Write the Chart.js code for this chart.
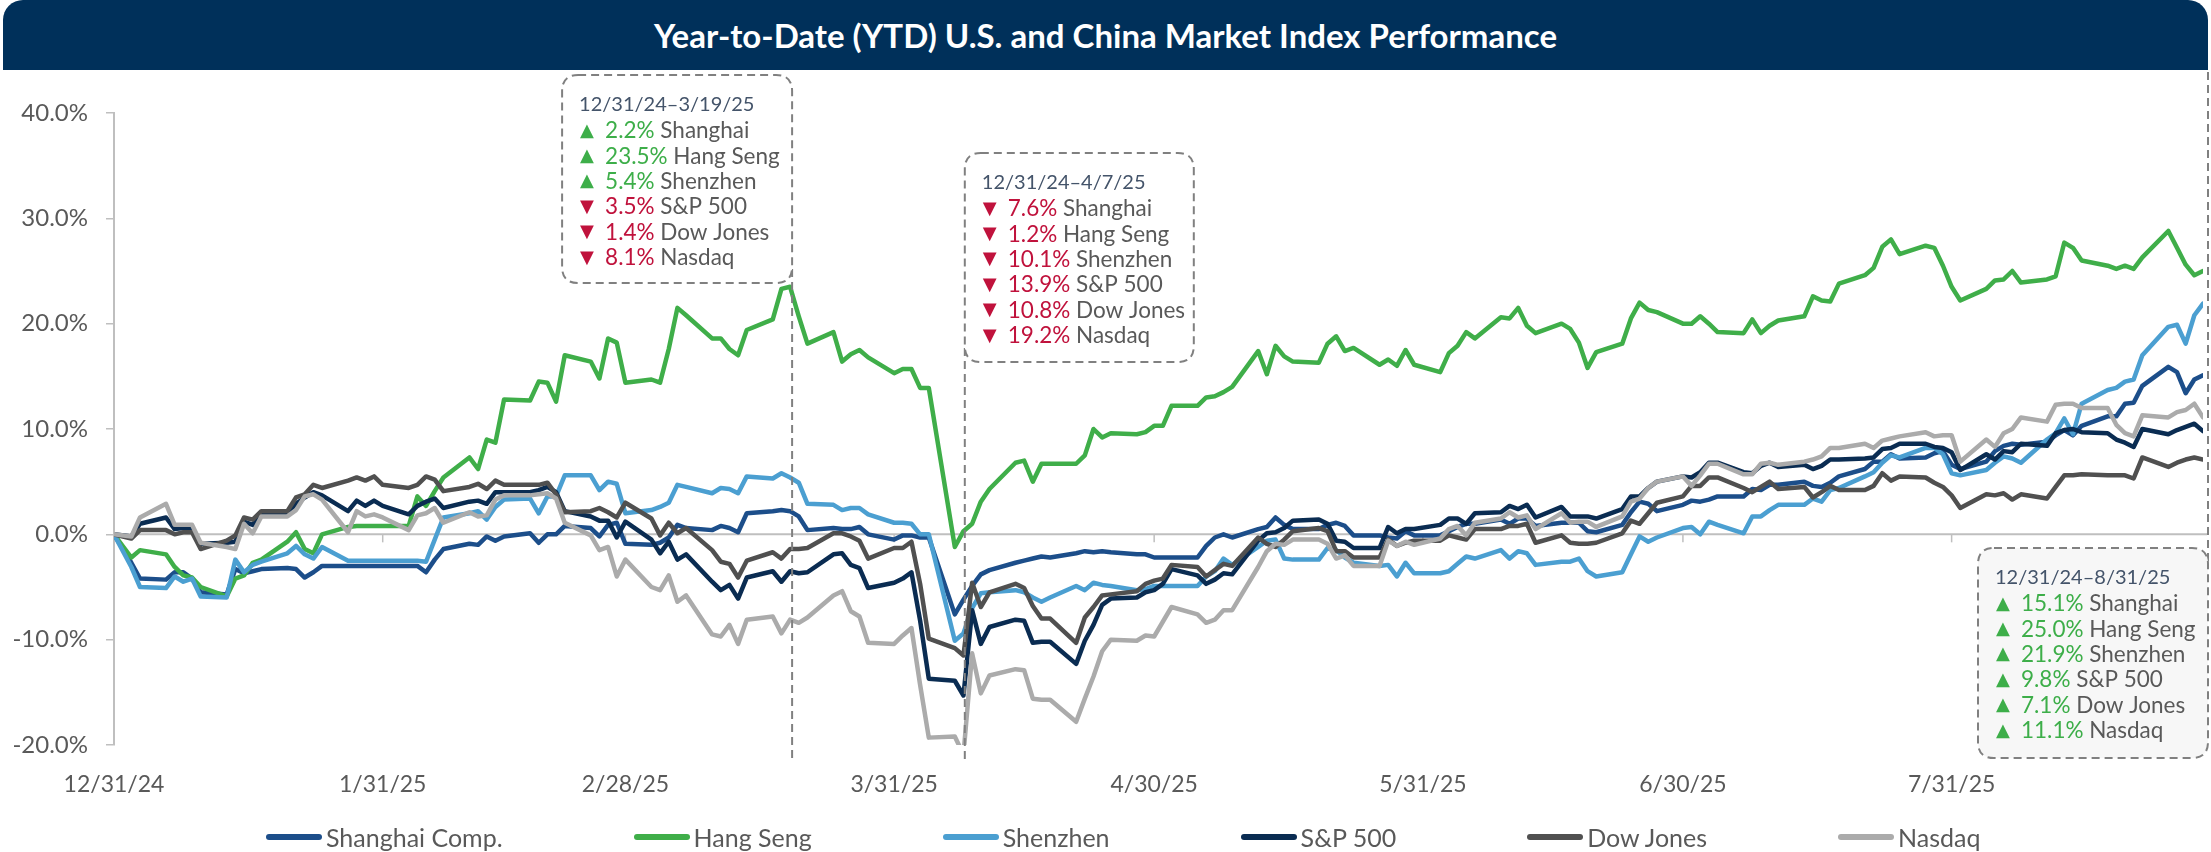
<!DOCTYPE html>
<html>
<head>
<meta charset="utf-8">
<script src="https://cdn.jsdelivr.net/npm/chart.js@4.4.1/dist/chart.umd.min.js"></script>
<style>
html,body{margin:0;padding:0;background:#ffffff;}
body{width:2211px;height:852px;position:relative;overflow:hidden;font-family:Lato,'DejaVu Sans',sans-serif;}
#title{position:absolute;left:3px;top:0;width:2205px;height:70px;background:#00305A;border-radius:20px 20px 0 0;color:#ffffff;font:700 33px Lato,'DejaVu Sans',sans-serif;display:flex;align-items:center;justify-content:center;z-index:2;}
#chart{position:absolute;left:0;top:0;}
#legend{position:absolute;left:266px;top:822px;height:30px;display:flex;align-items:center;font:25px Lato,'DejaVu Sans',sans-serif;color:#595959;z-index:2;white-space:nowrap;}
.item{display:flex;align-items:center;margin-right:131px;}
.sw{width:56px;height:6px;border-radius:3px;margin-right:4px;}
</style>
</head>
<body>
<div id="title">Year-to-Date (YTD) U.S. and China Market Index Performance</div>
<canvas id="chart" width="2211" height="852"></canvas>
<div id="legend"></div>
<script>
// ---------- DATA ----------
const dates = ['12/31',
 '1/2','1/3','1/6','1/7','1/8','1/9','1/10','1/13','1/14','1/15','1/16','1/17','1/20','1/21','1/22','1/23','1/24','1/27','1/28','1/29','1/30','1/31',
 '2/3','2/4','2/5','2/6','2/7','2/10','2/11','2/12','2/13','2/14','2/17','2/18','2/19','2/20','2/21','2/24','2/25','2/26','2/27','2/28',
 '3/3','3/4','3/5','3/6','3/7','3/10','3/11','3/12','3/13','3/14','3/17','3/18','3/19','3/20','3/21','3/24','3/25','3/26','3/27','3/28','3/31',
 '4/1','4/2','4/3','4/4','4/7','4/8','4/9','4/10','4/11','4/14','4/15','4/16','4/17','4/18','4/21','4/22','4/23','4/24','4/25','4/28','4/29','4/30',
 '5/1','5/2','5/5','5/6','5/7','5/8','5/9','5/12','5/13','5/14','5/15','5/16','5/19','5/20','5/21','5/22','5/23','5/26','5/27','5/28','5/29','5/30',
 '6/2','6/3','6/4','6/5','6/6','6/9','6/10','6/11','6/12','6/13','6/16','6/17','6/18','6/19','6/20','6/23','6/24','6/25','6/26','6/27','6/30',
 '7/1','7/2','7/3','7/4','7/7','7/8','7/9','7/10','7/11','7/14','7/15','7/16','7/17','7/18','7/21','7/22','7/23','7/24','7/25','7/28','7/29','7/30','7/31',
 '8/1','8/4','8/5','8/6','8/7','8/8','8/11','8/12','8/13','8/14','8/15','8/18','8/19','8/20','8/21','8/22','8/25','8/26','8/27','8/28','8/29'];

const shanghai = [0,
 -2.7,-4.2,-4.3,-3.6,-3.6,-4.2,-5.5,-5.7,-3.3,-3.7,-3.5,-3.3,-3.2,-3.3,-4.1,-3.6,-3.0,-3.0,-3.0,-3.0,-3.0,-3.0,
 -3.0,-3.0,-3.6,-2.4,-1.4,-0.9,-1.0,-0.2,-0.6,-0.2,0.1,-0.8,0.0,0.0,0.8,0.6,-0.2,0.9,1.1,-0.9,
 -1.0,-0.8,-0.3,0.9,0.6,0.4,0.8,0.6,0.2,2.0,2.2,2.3,2.2,1.7,0.4,0.6,0.5,0.5,0.7,0.0,-0.5,
 -0.1,-0.1,-0.3,-0.3,-7.6,-6.2,-4.9,-3.8,-3.4,-2.7,-2.5,-2.3,-2.1,-2.2,-1.8,-1.6,-1.7,-1.6,-1.7,-1.9,-1.9,-2.2,
 -2.2,-2.2,-2.2,-1.1,-0.3,0.0,-0.3,0.5,0.7,1.6,0.9,0.5,0.5,0.9,1.1,0.8,-0.1,-0.1,-0.3,-0.4,0.3,-0.1,
 -0.1,0.3,0.7,1.0,1.0,1.4,1.0,1.5,1.5,0.8,1.1,1.1,1.1,0.3,0.2,0.9,2.1,3.1,2.9,2.2,2.8,
 3.2,3.1,3.3,3.6,3.6,4.3,4.2,4.7,4.7,5.0,4.6,4.5,4.9,5.5,6.2,6.9,6.9,7.6,7.2,7.3,7.7,7.9,6.6,
 6.2,6.9,7.9,8.4,8.6,8.5,8.8,9.4,9.9,9.4,10.3,11.2,11.2,12.4,12.5,14.1,15.9,15.4,13.4,14.7,15.1];

const hangSeng = [0,
 -2.2,-1.5,-1.9,-3.1,-3.9,-4.1,-5.0,-5.9,-4.2,-3.9,-2.7,-2.4,-0.7,0.2,-1.4,-1.8,0.0,0.7,0.8,0.8,0.8,0.8,
 0.8,3.6,2.7,4.1,5.4,7.3,6.2,9.0,8.7,12.8,12.7,14.5,14.4,12.6,17.0,16.4,14.8,18.6,18.2,14.4,
 14.7,14.4,17.6,21.5,20.8,18.6,18.6,17.6,17.0,19.4,20.4,23.3,23.5,20.7,18.1,19.2,16.4,17.1,17.5,16.8,15.3,
 15.7,15.7,13.9,13.9,-1.2,0.3,1.0,3.1,4.3,6.8,7.0,5.0,6.7,6.7,6.7,7.5,10.0,9.2,9.6,9.5,9.7,10.3,
 10.3,12.2,12.2,13.0,13.1,13.5,14.0,17.4,15.2,17.9,16.9,16.4,16.3,18.1,18.8,17.4,17.7,16.1,16.6,16.0,17.5,16.1,
 15.4,17.2,17.9,19.2,18.6,20.6,20.5,21.5,19.8,19.1,20.0,19.5,18.2,15.8,17.3,18.1,20.5,22.0,21.3,21.1,20.0,
 20.0,20.7,20.0,19.2,19.1,20.4,19.1,19.8,20.3,20.7,22.6,22.2,22.1,23.8,24.6,25.3,27.3,28.0,26.6,27.4,27.2,25.5,23.5,
 22.2,23.3,24.1,24.2,25.0,23.9,24.2,24.5,27.7,27.2,26.0,25.5,25.2,25.5,25.2,26.3,28.8,27.2,25.6,24.6,25.0];

const shenzhen = [0,
 -3.1,-5.0,-5.1,-4.0,-4.5,-4.2,-5.9,-6.0,-2.4,-3.6,-2.9,-2.6,-1.8,-1.1,-1.9,-2.3,-1.2,-2.5,-2.5,-2.5,-2.5,-2.5,
 -2.5,-2.5,-2.6,-0.5,1.6,2.0,2.2,1.4,2.6,3.3,3.4,2.0,3.6,3.6,5.6,5.6,4.2,5.0,4.8,2.0,
 2.3,2.6,3.0,4.7,4.5,3.9,4.4,4.3,3.9,5.5,5.3,5.8,5.4,4.9,2.9,2.8,2.3,2.5,2.5,1.9,1.1,
 1.1,1.0,0.0,0.0,-10.1,-9.4,-7.0,-5.6,-5.5,-5.3,-5.5,-6.0,-6.4,-6.0,-4.9,-5.3,-4.6,-4.8,-4.9,-5.3,-5.2,-4.9,
 -4.9,-4.9,-4.9,-4.0,-3.5,-2.3,-2.9,-1.2,-0.6,-0.5,-2.3,-2.4,-2.4,-1.3,-1.5,-2.2,-2.7,-3.0,-2.9,-4.0,-2.7,-3.7,
 -3.7,-3.5,-2.8,-2.1,-2.3,-1.5,-2.3,-1.6,-1.8,-2.9,-2.6,-2.6,-2.3,-3.5,-4.0,-3.6,-1.9,-0.2,-0.7,-0.3,0.6,
 0.7,0.0,1.2,0.9,0.1,1.7,1.7,2.3,2.8,2.8,3.4,3.1,4.2,4.4,5.5,5.9,6.8,7.5,7.3,8.2,8.2,7.6,5.8,
 5.6,6.1,6.8,7.4,7.2,6.8,9.0,9.6,11.0,9.5,12.4,13.7,13.9,14.5,14.7,17.0,19.7,19.9,18.1,20.8,21.9];

const sp500 = [0,
 -0.2,1.0,1.6,0.5,0.6,0.6,-0.9,-0.8,-0.7,1.2,0.9,2.0,2.0,2.9,3.5,4.0,3.7,2.2,3.2,2.7,3.2,2.7,
 1.9,2.7,3.1,3.4,2.5,3.1,3.2,2.9,4.0,4.0,4.0,4.2,4.5,4.0,2.2,1.7,1.3,1.3,-0.3,1.2,
 -0.5,-1.8,-0.7,-2.4,-1.9,-4.5,-5.3,-4.8,-6.1,-4.1,-3.5,-4.5,-3.5,-3.7,-3.6,-1.9,-1.8,-2.9,-3.2,-5.1,-4.6,
 -4.2,-3.6,-8.2,-13.7,-13.9,-15.3,-7.2,-10.4,-8.8,-8.1,-8.2,-10.3,-10.2,-10.2,-12.3,-10.1,-8.6,-6.7,-6.1,-6.0,-5.5,-5.3,
 -4.7,-3.3,-3.9,-4.7,-4.3,-3.7,-3.8,-0.6,0.1,0.2,0.6,1.3,1.4,1.0,-0.6,-0.7,-1.3,-1.3,0.7,0.1,0.5,0.5,
 0.9,1.5,1.5,1.0,2.0,2.1,2.7,2.4,2.8,1.6,2.6,1.7,1.7,1.7,1.5,2.4,3.6,3.6,4.4,5.0,5.5,
 5.4,5.9,6.8,6.8,5.9,5.8,6.5,6.8,6.4,6.6,6.2,6.5,7.1,7.1,7.2,7.3,8.1,8.2,8.6,8.6,8.3,8.2,7.8,
 6.1,7.6,7.1,7.9,7.8,8.6,8.4,9.6,9.9,10.0,9.7,9.6,9.0,8.7,8.3,10.0,9.5,9.9,10.2,10.5,9.8];

const dowJones = [0,
 -0.4,0.4,0.4,0.0,0.2,0.2,-1.4,-0.6,-0.1,1.6,1.4,2.2,2.2,3.5,3.8,4.7,4.4,5.1,5.4,5.1,5.5,4.7,
 4.4,4.7,5.5,5.2,4.1,4.5,4.8,4.3,5.1,4.7,4.7,4.7,4.9,3.8,2.1,2.2,2.5,2.1,1.6,3.0,
 1.5,-0.1,1.1,0.1,0.6,-1.5,-2.6,-2.8,-4.1,-2.5,-1.7,-2.3,-1.4,-1.4,-1.3,0.1,0.1,-0.2,-0.6,-2.3,-1.3,
 -1.3,-0.7,-4.7,-9.9,-10.8,-11.5,-4.6,-6.9,-5.5,-4.7,-5.1,-6.8,-8.0,-8.0,-10.3,-7.9,-6.9,-5.8,-5.7,-5.4,-4.7,-4.4,
 -4.2,-2.9,-3.1,-4.0,-3.4,-2.8,-3.0,-0.3,-0.9,-1.2,-0.5,0.3,0.6,0.3,-1.6,-1.6,-2.2,-2.2,-0.5,-1.1,-0.8,-0.6,
 -0.6,-0.1,-0.3,-0.5,0.5,0.5,0.8,0.8,1.0,-0.8,-0.1,-0.8,-0.9,-0.9,-0.8,0.1,1.3,1.0,2.0,3.0,3.6,
 4.6,4.6,5.4,5.4,4.4,4.0,4.5,5.0,4.3,4.5,3.5,4.0,4.6,4.2,4.2,4.6,5.8,5.1,5.5,5.4,4.9,4.5,3.7,
 2.5,3.8,3.7,3.9,3.3,3.8,3.4,4.5,5.6,5.6,5.7,5.6,5.6,5.6,5.3,7.3,6.4,6.8,7.1,7.3,7.1];

const nasdaq = [0,
 -0.2,1.6,2.9,0.9,0.9,0.9,-0.8,-1.2,-1.4,1.0,0.1,1.7,1.7,2.3,3.6,3.8,3.3,0.2,2.2,1.7,1.9,1.6,
 0.4,1.8,2.0,2.5,1.1,2.1,1.7,1.8,3.3,3.7,3.7,3.8,3.9,3.4,1.1,-0.1,-1.5,-1.2,-4.0,-2.4,
 -5.0,-5.3,-3.9,-6.4,-5.8,-9.5,-9.7,-8.6,-10.4,-8.1,-7.8,-9.4,-8.1,-8.4,-7.9,-5.8,-5.4,-7.3,-7.8,-10.3,-10.4,
 -9.6,-8.9,-14.3,-19.3,-19.2,-20.9,-11.3,-15.1,-13.4,-12.8,-12.9,-15.6,-15.7,-15.7,-17.8,-15.6,-13.5,-11.1,-10.0,-10.1,-9.6,-9.7,
 -8.3,-6.9,-7.6,-8.4,-8.1,-7.2,-7.2,-3.1,-1.6,-0.9,-1.0,-0.5,-0.5,-0.9,-2.3,-2.0,-3.0,-3.0,-0.6,-1.1,-0.7,-1.0,
 -0.4,0.5,0.8,-0.1,1.1,1.5,2.1,1.6,1.8,0.5,2.0,1.1,1.2,1.2,0.7,1.7,3.1,3.4,4.4,5.0,5.5,
 4.6,5.6,6.7,6.7,5.7,5.7,6.7,6.8,6.6,6.9,7.1,7.4,8.2,8.2,8.6,8.2,8.9,9.1,9.3,9.7,9.3,9.4,9.4,
 6.9,9.0,8.3,9.6,10.0,11.1,10.7,12.3,12.4,12.4,12.0,12.0,10.4,9.6,9.3,11.3,11.1,11.6,11.8,12.4,11.1];

const seriesNames  = ['Shanghai Comp.','Hang Seng','Shenzhen','S&P 500','Dow Jones','Nasdaq'];
const seriesColors = ['#1C4E8A','#3FAE49','#4B9FD1','#0A2C52','#505050','#ABABAB'];
const seriesValues = [shanghai, hangSeng, shenzhen, sp500, dowJones, nasdaq];

const tickDates  = ['12/31','1/31','2/28','3/31','4/30','5/31','6/30','7/31'];
const tickLabels = ['12/31/24','1/31/25','2/28/25','3/31/25','4/30/25','5/31/25','6/30/25','7/31/25'];
const yTicks = [-20, -10, 0, 10, 20, 30, 40];

// annotation boxes
const boxNames   = ['Shanghai','Hang Seng','Shenzhen','S&P 500','Dow Jones','Nasdaq'];
const boxHeaders = ['12/31/24\u20133/19/25','12/31/24\u20134/7/25','12/31/24\u20138/31/25'];
const boxDates   = ['3/19','4/7','8/29'];
const box1Values = [2.2, 23.5, 5.4, -3.5, -1.4, -8.1];
const box2Values = [-7.6, -1.2, -10.1, -13.9, -10.8, -19.2];
const box3Values = [15.1, 25.0, 21.9, 9.8, 7.1, 11.1];

// ---------- HELPERS ----------
function dayOf(s){
  const [m,d] = s.split('/').map(Number);
  if (m === 12) return 0;
  return Math.round((Date.UTC(2025, m-1, d) - Date.UTC(2024, 11, 31)) / 86400000);
}
const xDays = dates.map(dayOf);
const tickDays = tickDates.map(dayOf);

// ---------- LEGEND (HTML) ----------
const lg = document.getElementById('legend');
seriesNames.forEach((n,i)=>{
  const it = document.createElement('div'); it.className='item';
  const sw = document.createElement('span'); sw.className='sw'; sw.style.background = seriesColors[i];
  const tx = document.createElement('span'); tx.textContent = n;
  it.appendChild(sw); it.appendChild(tx); lg.appendChild(it);
});

// ---------- PLUGINS ----------
const zeroLine = {
  id:'zeroLine',
  beforeDatasetsDraw(chart){
    const {ctx, chartArea, scales:{x,y}} = chart;
    const y0 = y.getPixelForValue(0);
    ctx.save();
    ctx.strokeStyle = '#BFBFBF'; ctx.lineWidth = 2;
    ctx.beginPath(); ctx.moveTo(chartArea.left, y0); ctx.lineTo(chartArea.right + 4, y0); ctx.stroke();
    ctx.lineWidth = 1.5;
    tickDays.forEach(d=>{ const px = x.getPixelForValue(d); ctx.beginPath(); ctx.moveTo(px, y0); ctx.lineTo(px, y0+8); ctx.stroke(); });
    ctx.restore();
  }
};

function rrect(ctx, x, y, w, h, r){
  ctx.beginPath();
  ctx.moveTo(x+r, y); ctx.lineTo(x+w-r, y); ctx.quadraticCurveTo(x+w, y, x+w, y+r);
  ctx.lineTo(x+w, y+h-r); ctx.quadraticCurveTo(x+w, y+h, x+w-r, y+h);
  ctx.lineTo(x+r, y+h); ctx.quadraticCurveTo(x, y+h, x, y+h-r);
  ctx.lineTo(x, y+r); ctx.quadraticCurveTo(x, y, x+r, y);
  ctx.closePath();
}

const boxLayout = [
  {vals: box1Values, side:'right', off: 2,  top: 75,  w: 230, h: 208, fill:'#FFFFFF', lineFromBox:true},
  {vals: box2Values, side:'left',  off: 10, top: 153, w: 229, h: 209, fill:'#FFFFFF', lineFromBox:true},
  {vals: box3Values, side:'right', off: 5,  top: 548, w: 230, h: 210, fill:'#F7F7F7', lineFromBox:false}
];

const annot = {
  id:'annot',
  afterDatasetsDraw(chart){
    const {ctx, scales:{x}} = chart;
    ctx.save();
    boxLayout.forEach((b, k)=>{
      const lx = x.getPixelForValue(dayOf(boxDates[k])) + b.off;
      const left = b.side === 'right' ? lx - b.w : lx;
      ctx.setLineDash([8,5]); ctx.strokeStyle = '#808080'; ctx.lineWidth = 2;
      ctx.beginPath();
      if (b.lineFromBox){ ctx.moveTo(lx, b.top + b.h - 14); ctx.lineTo(lx, 762); }
      else { ctx.moveTo(lx, 72); ctx.lineTo(lx, b.top + 14); }
      ctx.stroke();
      rrect(ctx, left, b.top, b.w, b.h, 16);
      ctx.fillStyle = b.fill; ctx.fill(); ctx.stroke();
      ctx.setLineDash([]);
      ctx.textBaseline = 'middle'; ctx.textAlign = 'left';
      ctx.font = '20px Lato, "DejaVu Sans", sans-serif';
      ctx.fillStyle = '#44546A';
      ctx.fillText(boxHeaders[k], left + 17, b.top + 30);
      b.vals.forEach((v, i)=>{
        const yy = b.top + 56 + i * 25.4;
        const up = v >= 0;
        const col = up ? '#3DAE49' : '#C0123C';
        ctx.fillStyle = col;
        ctx.font = '18px "DejaVu Sans", sans-serif';
        ctx.fillText(up ? '\u25B2' : '\u25BC', left + 18, yy);
        ctx.font = '22.5px Lato, "DejaVu Sans", sans-serif';
        const pct = Math.abs(v).toFixed(1) + '%';
        const px = left + 43;
        ctx.fillText(pct, px, yy);
        const wpct = ctx.measureText(pct + ' ').width;
        ctx.fillStyle = '#595959';
        ctx.fillText(boxNames[i], px + wpct, yy);
      });
    });
    ctx.restore();
  }
};

// ---------- CHART ----------
Chart.defaults.font.family = 'Lato, "DejaVu Sans", sans-serif';
Chart.defaults.color = '#595959';

const datasets = seriesNames.map((n,i)=>({
  label: n,
  data: xDays.map((d,j)=>({x:d, y: seriesValues[i][j]})),
  borderColor: seriesColors[i],
  backgroundColor: seriesColors[i],
  borderWidth: 4.5,
  pointRadius: 0,
  tension: 0,
  borderJoinStyle: 'round',
  borderCapStyle: 'round',
  spanGaps: true,
  fill: false,
  order: seriesNames.length - 1 - i
}));

new Chart(document.getElementById('chart'), {
  type: 'line',
  data: { datasets },
  options: {
    responsive: false,
    animation: false,
    devicePixelRatio: 1,
    layout: { padding: { top: 113, right: 8, bottom: 47, left: 0 } },
    plugins: { legend: { display:false }, tooltip: { enabled:false }, title: { display:false } },
    scales: {
      x: {
        type: 'linear', min: 0, max: dayOf('8/29'),
        grid: { display:false, drawTicks:false },
        border: { display:false },
        afterBuildTicks: (s)=>{ s.ticks = tickDays.map(v=>({value:v})); },
        afterFit: (s)=>{ s.height = 60; },
        ticks: {
          autoSkip:false, maxRotation:0, padding: 26,
          font: { size: 23 }, color:'#595959',
          callback: (v)=>{ const i = tickDays.indexOf(v); return i>=0 ? tickLabels[i] : ''; }
        }
      },
      y: {
        min: -20, max: 40,
        afterBuildTicks: (s)=>{ s.ticks = yTicks.map(v=>({value:v})); },
        afterFit: (s)=>{ s.width = 114; },
        grid: { drawOnChartArea:false, drawTicks:true, tickLength:8, color:'#BFBFBF', lineWidth:1.5 },
        border: { display:true, color:'#BFBFBF', width:2 },
        ticks: { padding: 18, font: { size: 24 }, color:'#595959', callback: (v)=> v.toFixed(1) + '%' }
      }
    }
  },
  plugins: [zeroLine, annot]
});
</script>
</body>
</html>
